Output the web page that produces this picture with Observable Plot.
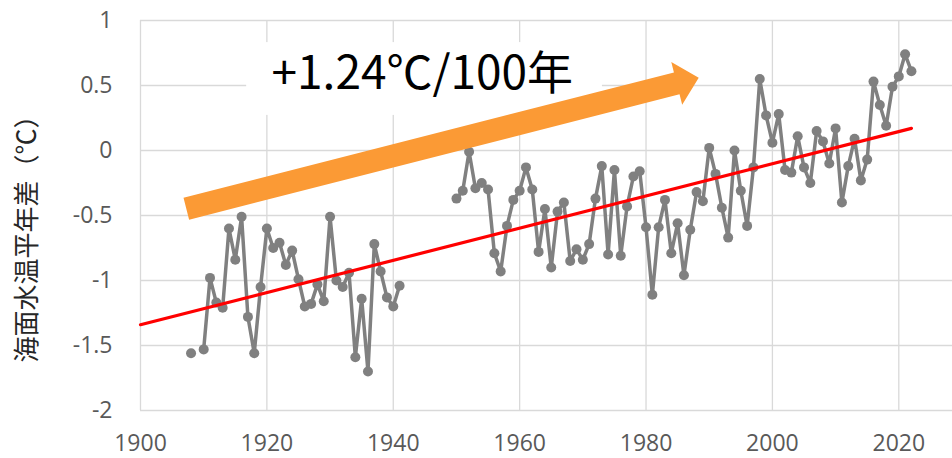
<!DOCTYPE html>
<html>
<head>
<meta charset="utf-8">
<script src="https://cdn.jsdelivr.net/npm/d3@7"></script>
<script src="https://cdn.jsdelivr.net/npm/@observablehq/plot@0.6"></script>
<style>
  html, body { margin: 0; padding: 0; background: #fff; }
  svg { display: block; }
</style>
</head>
<body>
<div id="chart"></div>
<script>
// ---- data ----
const years = [
  1908,1909,1910,1911,1912,1913,1914,1915,1916,1917,1918,1919,
  1920,1921,1922,1923,1924,1925,1926,1927,1928,1929,
  1930,1931,1932,1933,1934,1935,1936,1937,1938,1939,
  1940,1941,1942,1943,1944,1945,1946,1947,1948,1949,
  1950,1951,1952,1953,1954,1955,1956,1957,1958,1959,
  1960,1961,1962,1963,1964,1965,1966,1967,1968,1969,
  1970,1971,1972,1973,1974,1975,1976,1977,1978,1979,
  1980,1981,1982,1983,1984,1985,1986,1987,1988,1989,
  1990,1991,1992,1993,1994,1995,1996,1997,1998,1999,
  2000,2001,2002,2003,2004,2005,2006,2007,2008,2009,
  2010,2011,2012,2013,2014,2015,2016,2017,2018,2019,
  2020,2021,2022
];
const anomalies = [
  -1.56,null,-1.53,-0.98,-1.17,-1.21,-0.60,-0.84,-0.51,-1.28,-1.56,-1.05,
  -0.60,-0.75,-0.71,-0.88,-0.77,-0.99,-1.20,-1.18,-1.03,-1.16,
  -0.51,-1.00,-1.05,-0.94,-1.59,-1.14,-1.70,-0.72,-0.93,-1.13,
  -1.20,-1.04,null,null,null,null,null,null,null,null,
  -0.37,-0.31,-0.01,-0.29,-0.25,-0.30,-0.79,-0.93,-0.58,-0.38,
  -0.31,-0.13,-0.30,-0.78,-0.45,-0.90,-0.47,-0.40,-0.85,-0.76,
  -0.84,-0.72,-0.37,-0.12,-0.80,-0.15,-0.81,-0.43,-0.20,-0.16,
  -0.59,-1.11,-0.59,-0.38,-0.79,-0.56,-0.96,-0.61,-0.32,-0.39,
  0.02,-0.18,-0.44,-0.67,0.00,-0.31,-0.58,-0.13,0.55,0.27,
  0.06,0.28,-0.15,-0.17,0.11,-0.13,-0.25,0.15,0.07,-0.10,
  0.17,-0.40,-0.12,0.09,-0.23,-0.07,0.53,0.35,0.19,0.49,
  0.57,0.74,0.61
];
const trendYears = [1900, 2022];
const trendValues = [-1.34, 0.17];
const xTicks = [1900, 1920, 1940, 1960, 1980, 2000, 2020];
const yTicks = [1, 0.5, 0, -0.5, -1, -1.5, -2];
const yLabel = "海面水温平年差（℃）";
const rateLabel = "+1.24℃/100年";
// annotation arrow (data coordinates)
const arrowTail = {year: 1907.25, value: -0.448};
const arrowTip = {year: 1988.34, value: 0.56};
// annotation label and its white box (data coordinates)
const labelAt = {year: 1944.6, value: 0.59};
const labelBox = {year1: 1916.8, year2: 1973.1, value1: 0.27, value2: 0.83};

// ---- layout ----
const W = 952, H = 458;
const mL = 140, mR = 0, mT = 20, mB = 48;
const xDomain = [1900, 2028.5];
const yDomain = [-2, 1];

const series = years.map((y, i) => ({year: y, value: anomalies[i]}));
const trend = trendYears.map((y, i) => ({year: y, value: trendValues[i]}));

// arrow polygon: computed in pixel offsets, expressed in data units
const kx = (W - mL - mR) / (xDomain[1] - xDomain[0]);
const ky = (H - mT - mB) / (yDomain[1] - yDomain[0]);
function toPx(p) { return [(p.year - xDomain[0]) * kx, (yDomain[1] - p.value) * ky]; }
function toData(q) { return {year: xDomain[0] + q[0] / kx, value: yDomain[1] - q[1] / ky}; }
const a = toPx(arrowTail), b = toPx(arrowTip);
const len = Math.hypot(b[0] - a[0], b[1] - a[1]);
const d = [(b[0] - a[0]) / len, (b[1] - a[1]) / len];
const n = [-d[1], d[0]];
const shaftHalf = 11.3, headLen = 22.7, headHalf = 22;
const base = [b[0] - d[0] * headLen, b[1] - d[1] * headLen];
const pt = (p, s) => [p[0] + n[0] * s, p[1] + n[1] * s];
const arrowPoly = [
  pt(a, -shaftHalf), pt(base, -shaftHalf), pt(base, -headHalf), b,
  pt(base, headHalf), pt(base, shaftHalf), pt(a, shaftHalf), pt(a, -shaftHalf)
].map(toData);

const tickColor = "#595959";
const gridColor = "#d9d9d9";

const chart = Plot.plot({
  width: W,
  height: H,
  marginLeft: mL,
  marginRight: mR,
  marginTop: mT,
  marginBottom: mB,
  x: {domain: xDomain},
  y: {domain: yDomain},
  style: {fontFamily: "'Open Sans', 'Noto Sans CJK JP', sans-serif", background: "#fff"},
  marks: [
    Plot.gridX(xTicks, {stroke: gridColor, strokeOpacity: 1, strokeWidth: 1.3}),
    Plot.gridY(yTicks, {stroke: gridColor, strokeOpacity: 1, strokeWidth: 1.3}),
    Plot.axisX(xTicks, {tickSize: 0, tickPadding: 24, fontSize: 23, fill: tickColor, tickFormat: d => String(d), label: null}),
    Plot.axisY(yTicks, {tickSize: 0, tickPadding: 28, fontSize: 23, fill: tickColor, tickFormat: d => String(d), label: null}),
    Plot.text([yLabel], {
      frameAnchor: "left", textAnchor: "middle", text: d => d, rotate: -90, dx: -113, dy: 17,
      fontSize: 26, fill: "#262626", fontFamily: "'Noto Sans CJK JP', sans-serif"
    }),
    Plot.rect([labelBox], {x1: "year1", x2: "year2", y1: "value1", y2: "value2", fill: "white"}),
    Plot.line(series, {x: "year", y: "value", stroke: "#808080", strokeWidth: 3.5}),
    Plot.dot(series.filter(d => d.value != null), {x: "year", y: "value", r: 5, fill: "#808080", stroke: "none"}),
    Plot.line(trend, {x: "year", y: "value", stroke: "#ff0000", strokeWidth: 3.2}),
    Plot.line(arrowPoly, {x: "year", y: "value", fill: "#fb9a35", stroke: "none"}),
    Plot.text([labelAt], {
      x: "year", y: "value", text: () => rateLabel, fontSize: 46, fill: "#000",
      fontFamily: "'Noto Sans CJK JP', sans-serif"
    })
  ]
});
document.getElementById("chart").appendChild(chart);
</script>
</body>
</html>
